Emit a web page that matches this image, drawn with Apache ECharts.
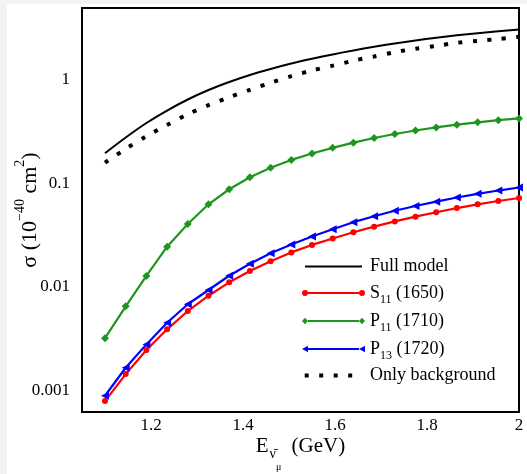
<!DOCTYPE html>
<html><head><meta charset="utf-8">
<script src="https://cdn.jsdelivr.net/npm/echarts@6/dist/echarts.min.js"></script>
<style>html,body{margin:0;padding:0;background:#f3f3f3}
#bg{position:absolute;left:7px;top:4px;width:520px;height:470px;background:#fff}
#c,#t{position:absolute;left:0;top:0;width:527px;height:474px}
#t{pointer-events:none}</style>
</head><body><div id="bg"></div><div id="c"></div><div id="t"></div><script>
// ---- data ----
const energies = [1.1, 1.145, 1.19, 1.235, 1.28, 1.325, 1.37, 1.415, 1.46, 1.505, 1.55, 1.595, 1.64, 1.685, 1.73, 1.775, 1.82, 1.865, 1.91, 1.955, 2.0];
const fullModel = [0.196, 0.278, 0.384, 0.507, 0.648, 0.800, 0.956, 1.118, 1.277, 1.440, 1.602, 1.767, 1.931, 2.094, 2.252, 2.409, 2.558, 2.704, 2.833, 2.955, 3.069];
const s11 = [0.00079, 0.00144, 0.00246, 0.0039, 0.00586, 0.00824, 0.0111, 0.0143, 0.0177, 0.0216, 0.0255, 0.0294, 0.0338, 0.0383, 0.0430, 0.0478, 0.0528, 0.0579, 0.0629, 0.0677, 0.0724];
const p11 = [0.0032, 0.0065, 0.0128, 0.0245, 0.0406, 0.063, 0.088, 0.115, 0.142, 0.169, 0.195, 0.221, 0.248, 0.275, 0.301, 0.325, 0.348, 0.370, 0.390, 0.409, 0.425];
const p13 = [0.00089, 0.00166, 0.00279, 0.00452, 0.00681, 0.00936, 0.01285, 0.0168, 0.0212, 0.0257, 0.0308, 0.0361, 0.0423, 0.0483, 0.0545, 0.0606, 0.0668, 0.0732, 0.0795, 0.0855, 0.0915];
const background = [0.159, 0.216, 0.286, 0.367, 0.467, 0.571, 0.681, 0.804, 0.938, 1.088, 1.235, 1.375, 1.536, 1.689, 1.856, 2.006, 2.134, 2.287, 2.386, 2.490, 2.614];
const seriesNames = ['Full model', 'S11 (1650)', 'P11 (1710)', 'P13 (1720)', 'Only background'];
const xRange = [1.05, 2.0];
const yRange = [0.00062, 4.96];
const xMajorTicks = [1.2, 1.4, 1.6, 1.8, 2.0];
const xMinorTicks = [1.1, 1.15, 1.25, 1.3, 1.35, 1.45, 1.5, 1.55, 1.65, 1.7, 1.75, 1.85, 1.9, 1.95];
const yMajorTicks = [0.001, 0.01, 0.1, 1];
const yMinorTicks = [0.0007, 0.0008, 0.0009, 0.002, 0.003, 0.004, 0.005, 0.006, 0.007, 0.008, 0.009,
  0.02, 0.03, 0.04, 0.05, 0.06, 0.07, 0.08, 0.09, 0.2, 0.3, 0.4, 0.5, 0.6, 0.7, 0.8, 0.9, 2, 3, 4];

const FONT = 'Liberation Serif';
const black = '#000';

// ---- overlay chart first: inward tick marks on all four sides, same grid and scales ----
try {
  const tl = (vals, len) => ({show: true, inside: true, length: len, customValues: vals, lineStyle: {color: '#000', width: 2}});
  const tx = (pos, vals, len) => ({type: 'value', min: xRange[0], max: xRange[1], position: pos, axisTick: tl(vals, len),
    splitLine: {lineStyle: {color: 'rgba(0,0,0,0)'}}, axisLine: {show: false}, axisLabel: {show: false}});
  const ty = (pos, vals, len) => ({type: 'log', min: yRange[0], max: yRange[1], position: pos, axisTick: tl(vals, len),
    splitLine: {lineStyle: {color: 'rgba(0,0,0,0)'}}, axisLine: {show: false}, axisLabel: {show: false}});
  const overlay = echarts.init(document.getElementById('t'));
  overlay.setOption({
    animation: false,
    grid: {left: 82, right: 8, top: 8, bottom: 62},
    xAxis: [tx('bottom', xMajorTicks, 15), tx('top', xMajorTicks, 15), tx('bottom', xMinorTicks, 7), tx('top', xMinorTicks, 7)],
    yAxis: [ty('left', yMajorTicks, 15), ty('right', yMajorTicks, 15), ty('left', yMinorTicks, 7), ty('right', yMinorTicks, 7)],
    series: [{type: 'line', data: [[1.5, 0.1]], symbol: 'none', lineStyle: {opacity: 0}, silent: true}]
  });
} catch (e) { console.error(e); }

// ---- main chart: frame, labels, titles, legend, curves ----
const pair = arr => energies.map((x, i) => [x, arr[i]]);
const mkLine = () => ({show: true, onZero: false, lineStyle: {color: black, width: 2}});
const anchors = 'M0,0L0,0M63,8L63,8';
const icons = [
  'path://' + anchors + 'M3,3H60V5H3Z',
  'path://' + anchors + 'M0,4A3,3 0 1 1 6,4A3,3 0 1 1 0,4Z M57,4A3,3 0 1 1 63,4A3,3 0 1 1 57,4Z M6,3H57V5H6Z',
  'path://' + anchors + 'M0,4L3,0.8L6,4L3,7.2Z M57,4L60,0.8L63,4L60,7.2Z M6,3H57V5H6Z',
  'path://' + anchors + 'M0,4L6,0.8L6,7.2Z M57,4L63,0.8L63,7.2Z M6,3H57V5H6Z',
  'path://' + anchors + 'M2.7,2h4v4h-4Z M17.2,2h4v4h-4Z M31.7,2h4v4h-4Z M46.2,2h4v4h-4Z'
];
try {
  const chart = echarts.init(document.getElementById('c'));
  chart.setOption({
    animation: false,
    grid: {left: 82, right: 8, top: 8, bottom: 62, containLabel: false, outerBoundsMode: 'none'},
    xAxis: [
      {type: 'value', min: xRange[0], max: xRange[1], position: 'bottom', splitLine: {show: false},
        axisLine: mkLine(), axisTick: {show: false},
        axisLabel: {customValues: xMajorTicks, color: black, fontFamily: FONT, fontSize: 17, margin: 5},
        name: '{e|E}{nu|ν\u0304}{mu|μ}{t| (GeV)}', nameLocation: 'middle', nameGap: 22, nameMoveOverlap: false,
        nameTextStyle: {color: black, fontFamily: FONT, fontSize: 21, lineHeight: 24, rich: {
          e: {fontFamily: FONT, fontSize: 21, lineHeight: 24, color: black},
          nu: {fontFamily: FONT, fontSize: 14, lineHeight: 24, color: black, padding: [17, 0, 0, 1]},
          mu: {fontFamily: FONT, fontSize: 10, lineHeight: 24, color: black, padding: [42, 5, 0, 0]},
          t: {fontFamily: FONT, fontSize: 21, lineHeight: 24, color: black}}}},
      {type: 'value', min: xRange[0], max: xRange[1], position: 'top', splitLine: {show: false},
        axisLine: mkLine(), axisTick: {show: false}, axisLabel: {show: false}}
    ],
    yAxis: [
      {type: 'log', min: yRange[0], max: yRange[1], position: 'left', splitLine: {show: false},
        axisLine: mkLine(), axisTick: {show: false},
        axisLabel: {showMinLabel: false, showMaxLabel: false, color: black, fontFamily: FONT, fontSize: 17, margin: 12},
        name: '{t|σ (10}{sup|−40}{t| cm}{sup|2}{t|)}', nameLocation: 'middle', nameGap: 40, nameRotate: 90, nameMoveOverlap: false,
        nameTextStyle: {color: black, fontFamily: FONT, fontSize: 22, lineHeight: 24, rich: {
          t: {fontFamily: FONT, fontSize: 22, lineHeight: 24, color: black},
          sup: {fontFamily: FONT, fontSize: 14, lineHeight: 24, color: black, padding: [0, 0, 20, 0]}}}},
      {type: 'log', min: yRange[0], max: yRange[1], position: 'right', splitLine: {show: false},
        axisLine: mkLine(), axisTick: {show: false}, axisLabel: {show: false}}
    ],
    legend: {
      orient: 'vertical', left: 302, top: 255, padding: 0, itemWidth: 63, itemHeight: 8, itemGap: 2,
      selectedMode: false, symbolKeepAspect: false,
      itemStyle: {borderWidth: 0},
      data: seriesNames.map((n, i) => ({name: n, icon: icons[i]})),
      formatter: function (name) {
        const m = name.match(/^([SP])(\d\d)(.*)$/);
        return m ? '{m|' + m[1] + '}{s|' + m[2] + '}{m|' + m[3] + '}' : '{m|' + name + '}';
      },
      textStyle: {color: black, fontFamily: FONT, fontSize: 18, lineHeight: 23,
        rich: {m: {fontFamily: FONT, fontSize: 18, lineHeight: 23, color: black},
               s: {fontFamily: FONT, fontSize: 12, lineHeight: 23, color: black, padding: [14, 0, 0, 0]}}}
    },
    series: [
      {name: seriesNames[0], type: 'line', data: pair(fullModel), showSymbol: false, symbol: 'none', smooth: 0.3,
       color: black, lineStyle: {color: black, width: 2}},
      {name: seriesNames[1], type: 'line', data: pair(s11), symbol: 'circle', symbolSize: 6, color: '#ff0000',
       lineStyle: {color: '#ff0000', width: 2.2}, itemStyle: {color: '#ff0000'}},
      {name: seriesNames[2], type: 'line', data: pair(p11), symbol: 'diamond', symbolSize: 8, color: '#1e961e',
       lineStyle: {color: '#1e961e', width: 2.2}, itemStyle: {color: '#1e961e'}},
      {name: seriesNames[3], type: 'line', data: pair(p13), symbol: 'triangle', symbolRotate: 90, symbolSize: 8, color: '#0000ff',
       lineStyle: {color: '#0000ff', width: 2.2}, itemStyle: {color: '#0000ff'}},
      {name: seriesNames[4], type: 'line', data: pair(background), showSymbol: false, symbol: 'none', smooth: 0.3,
       color: black, lineStyle: {color: black, width: 4, type: [4, 10.5], cap: 'butt'}}
    ]
  });
} catch (e) { console.error(e); }
</script></body></html>
